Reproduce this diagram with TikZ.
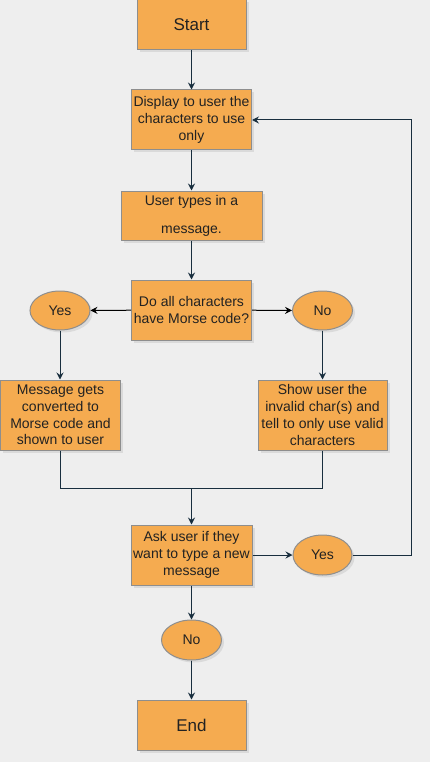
\documentclass[tikz,border=0pt]{standalone}
\usepackage{fontspec}
\setmainfont{Liberation Sans}
\usetikzlibrary{arrows.meta,shapes.geometric,shadows,calc}
\definecolor{bg}{HTML}{EEEEEE}
\definecolor{boxfill}{HTML}{F5AB50}
\definecolor{boxline}{HTML}{8E8E8E}
\definecolor{conn}{HTML}{182E3E}
\definecolor{txt}{HTML}{222222}
\tikzset{
  base/.style={fill=boxfill, draw=boxline, line width=1pt, text=txt, inner sep=0pt,
    align=center, font=\fontsize{14}{16.8}\selectfont,
    drop shadow={opacity=0.18, shadow xshift=2.5pt, shadow yshift=-2.5pt}},
  procbox/.style={base, rectangle},
  termbox/.style={base, rectangle, font=\fontsize{17}{20}\selectfont},
  answer/.style={base, ellipse},
  conn/.style={draw=conn, line width=1pt, -{Stealth[length=7pt,width=7pt,inset=2.5pt]}},
  plainconn/.style={draw=conn, line width=1pt},
  blackconn/.style={draw=black, line width=1pt, -{Stealth[length=7pt,width=7pt,inset=2.5pt]}}
}
\begin{document}
\begin{tikzpicture}[x=1pt,y=-1pt]
\path[fill=bg, use as bounding box] (0,0) rectangle (430,762);

\node[termbox, minimum width=109pt, minimum height=50pt] (start) at (191.5,25) {Start};
\node[procbox, minimum width=120pt, minimum height=60pt] (disp) at (191.5,120) {Display to user the\\characters to use\\only};
\node[procbox, minimum width=141pt, minimum height=49pt] (types) at (191.5,215.5) {User types in a\\[11pt]message.};
\node[procbox, minimum width=120pt, minimum height=60pt] (check) at (191.5,310) {Do all characters\\have Morse code?};
\node[answer, minimum width=60pt, minimum height=39pt] (yes1) at (60,310.5) {Yes};
\node[answer, minimum width=60pt, minimum height=39pt] (no1) at (322.5,310.5) {No};
\node[procbox, minimum width=120pt, minimum height=70pt] (msg) at (60.5,415) {Message gets\\converted to\\Morse code and\\shown to user};
\node[procbox, minimum width=129pt, minimum height=70pt] (show) at (322.5,415) {Show user the\\invalid char(s) and\\tell to only use valid\\characters};
\coordinate (merge) at (191.5,488);
\node[procbox, minimum width=121pt, minimum height=60pt] (ask) at (191.5,555) {Ask user if they\\want to type a new\\message};
\node[answer, minimum width=59pt, minimum height=40pt] (yes2) at (322.5,555) {Yes};
\coordinate (loopc) at (411,120);
\node[answer, minimum width=60pt, minimum height=40pt] (no2) at (191.5,640) {No};
\node[termbox, minimum width=109pt, minimum height=50pt] (end) at (191.5,725) {End};

\draw[conn] (start) -- (disp);
\draw[conn] (disp) -- (types);
\draw[conn] (types) -- (check);
\draw[blackconn] (check) -- (yes1);
\draw[blackconn] (check) -- (no1);
\draw[conn] (yes1.south) -- (yes1.south |- msg.north);
\draw[conn] (no1.south) -- (no1.south |- show.north);
\draw[plainconn] (msg.south) |- (merge);
\draw[plainconn] (show.south) |- (merge);
\draw[conn] (merge) -- (ask.north);
\draw[conn] (ask) -- (yes2);
\draw[conn] (yes2.east) -| (loopc) -- (disp.east);
\draw[conn] (ask) -- (no2);
\draw[conn] (no2) -- (end);
\end{tikzpicture}
\end{document}
